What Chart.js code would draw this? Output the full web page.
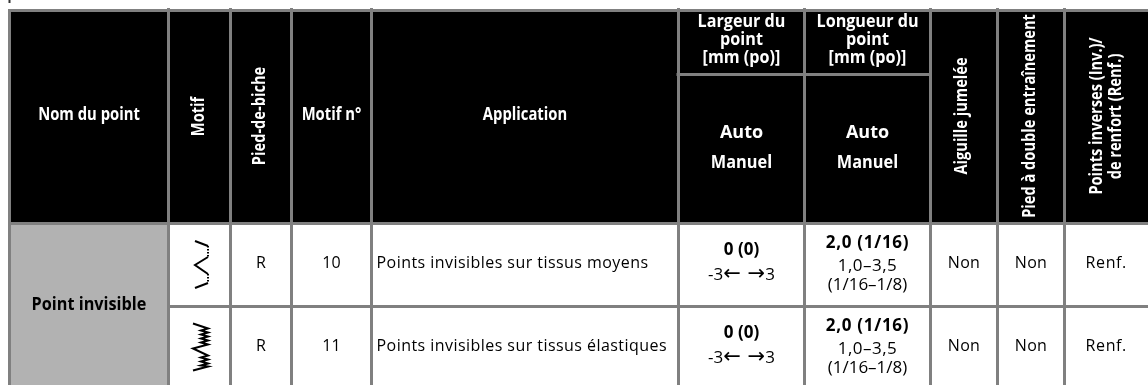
<!DOCTYPE html>
<html>
<head>
<meta charset="utf-8">
<style>
  html, body { margin: 0; padding: 0; background: #fff; }
  #wrap { width: 1148px; height: 385px; position: relative; overflow: hidden; }
</style>
<script src="https://cdn.jsdelivr.net/npm/chart.js@4/dist/chart.umd.min.js"></script>
</head>
<body>
<div id="wrap"><canvas id="chart" width="1148" height="385"></canvas></div>
<script>
/* ── Table contents ── */
const stitchGroup   = 'Point invisible';
const patternNos    = ['10', '11'];
const presserFeet   = ['R', 'R'];
const applications  = ['Points invisibles sur tissus moyens', 'Points invisibles sur tissus élastiques'];
const widthAuto     = ['0 (0)', '0 (0)'];
const widthRange    = ['-3← →3', '-3← →3'];
const lengthAuto    = ['2,0 (1/16)', '2,0 (1/16)'];
const lengthRange   = ['1,0–3,5', '1,0–3,5'];
const lengthRangeIn = ['(1/16–1/8)', '(1/16–1/8)'];
const twinNeedle    = ['Non', 'Non'];
const dualFeed      = ['Non', 'Non'];
const reverseStitch = ['Renf.', 'Renf.'];

/* ── Stitch pictograms, as pen strokes in glyph units ── */
const blindStrokes = [
  [[0, 0], [13, 5]],
  [[13, 16], [0, 24], [13, 33]],
  [[13, 42], [0, 47]]
];
const blindDots = [[13, 5], [13, 16], [13, 33], [13, 42]];
const stretchStrokes = [
  [[0, 0], [15, 5], [8, 7], [15, 9], [8, 11], [15, 13], [8, 15], [15, 17], [8, 19], [15, 21], [0, 25], [15, 32],
   [8, 34], [15, 36], [8, 38], [15, 40], [8, 42], [15, 43], [0, 47]]
];

/* ── Grid layout, in table units (1 unit = 1 px) ── */
const colEdges = [9.5, 168.5, 230.5, 291.5, 371.5, 678.5, 804.5, 930.5, 997.5, 1064.5, 1148];
const rowEdges = [10.5, 74.5, 223.5, 306.5, 385];

const GREY = '#808080';
const FONT = '"Open Sans"';
const ARROW_FONT = '21px "DejaVu Sans"';

function band(x0, x1, yTop, yBottom, color) {
  return {
    data: [{ x: x0, y: yTop }, { x: x1, y: yTop }],
    showLine: true, pointRadius: 0, borderWidth: 0,
    borderColor: color, backgroundColor: color,
    fill: { value: yBottom }, order: 5
  };
}

function rule(x0, y0, x1, y1, color = GREY, width = 3) {
  return {
    data: [{ x: x0, y: y0 }, { x: x1, y: y1 }],
    showLine: true, pointRadius: 0, borderWidth: width,
    borderColor: color, fill: false, order: 1
  };
}

const [rowTop, rowSub, rowHead, rowMid, rowEnd] = rowEdges;
const last = colEdges.length - 1;

const datasets = [
  band(colEdges[0], colEdges[last], rowTop, rowHead, '#000000'),
  band(colEdges[0], colEdges[1], rowHead, rowEnd, '#b2b2b2'),
  rule(colEdges[0] - 1.5, rowTop, colEdges[last], rowTop),
  rule(colEdges[0], rowHead, colEdges[last], rowHead),
  rule(colEdges[1], rowMid, colEdges[last], rowMid),
  rule(colEdges[5] - 2, rowSub, colEdges[7], rowSub),
  rule(colEdges[0], 0, colEdges[0], 3, '#333333', 2)
];
colEdges.slice(0, last).forEach((x, i) => {
  datasets.push(rule(x, i === 0 ? rowTop : rowTop - 2.5, x, rowEnd));
});

/* ── Text and pictograms, placed through the chart scales ── */
const tablePainter = {
  id: 'tablePainter',
  afterDatasetsDraw(chart) {
    const { ctx, scales: { x, y } } = chart;
    const colMid = i => x.getPixelForValue((colEdges[i] + colEdges[i + 1]) / 2);

    function text(str, px, py, font, opts = {}) {
      ctx.save();
      ctx.translate(px, py);
      if (opts.rot) ctx.rotate(opts.rot);
      if (opts.sx) ctx.scale(opts.sx, 1);
      ctx.font = `${font} ${FONT}`;
      ctx.letterSpacing = opts.ls || '0px';
      ctx.fillStyle = opts.color || '#000';
      ctx.textAlign = opts.align || 'center';
      ctx.textBaseline = 'alphabetic';
      ctx.fillText(str, 0, 0);
      ctx.restore();
    }

    // digits in the body font, arrows in a font with long shafts
    function rangeText(str, px, py) {
      const parts = str.split(/([← →]+)/);
      const fontOf = i => (i % 2 ? ARROW_FONT : `17px ${FONT}`);
      ctx.save();
      ctx.fillStyle = '#000';
      ctx.textAlign = 'left';
      ctx.textBaseline = 'alphabetic';
      const widths = parts.map((p, i) => { ctx.font = fontOf(i); return ctx.measureText(p).width; });
      let cx = px - widths.reduce((a, b) => a + b, 0) / 2;
      parts.forEach((p, i) => {
        ctx.font = fontOf(i);
        ctx.fillText(p, cx, py);
        cx += widths[i];
      });
      ctx.restore();
    }

    const up = -Math.PI / 2;
    const W = '#fff';
    const flat = { color: W, sx: 0.87 };
    const side = { color: W, rot: up, sx: 0.86 };
    // header
    text('Nom du point', colMid(0), y.getPixelForValue(120), 'bold 17px', flat);
    text('Motif', colMid(1) + 4, y.getPixelForValue(116.5), 'bold 17px', side);
    text('Pied-de-biche', colMid(2) + 3.5, y.getPixelForValue(116), 'bold 17px', side);
    text('Motif n°', colMid(3), y.getPixelForValue(120), 'bold 17px', flat);
    text('Application', colMid(4), y.getPixelForValue(120), 'bold 17px', flat);
    ['Largeur du', 'point', '[mm (po)]'].forEach((s, i) => text(s, colMid(5), y.getPixelForValue(27 + i * 18), 'bold 17px', { color: W, sx: 0.95 }));
    ['Longueur du', 'point', '[mm (po)]'].forEach((s, i) => text(s, colMid(6), y.getPixelForValue(27 + i * 18), 'bold 17px', { color: W, sx: 0.95 }));
    [5, 6].forEach(c => {
      text('Auto', colMid(c), y.getPixelForValue(138), 'bold 18px', { color: W });
      text('Manuel', colMid(c), y.getPixelForValue(168), 'bold 17px', { color: W, sx: 0.96 });
    });
    text('Aiguille jumelée', colMid(7) + 2.5, y.getPixelForValue(116), 'bold 17px', side);
    text('Pied à double entraînement', colMid(8) + 4, y.getPixelForValue(116), 'bold 17px', side);
    text('Points inverses (Inv.)/', colMid(9) - 4.5, y.getPixelForValue(116), 'bold 17px', side);
    text('de renfort (Renf.)', colMid(9) + 15, y.getPixelForValue(116.5), 'bold 17px', side);
    // body
    text(stitchGroup, colMid(0), y.getPixelForValue(310), 'bold 17px', { sx: 0.955 });
    patternNos.forEach((_, r) => {
      const base = rowEdges[2 + r];
      const py = v => y.getPixelForValue(base + v);
      text(presserFeet[r], colMid(2), py(44), '16px');
      text(patternNos[r], colMid(3), py(44), '16px');
      text(applications[r], x.getPixelForValue(colEdges[4] + 5), py(44.5), '16px', { align: 'left', ls: '0.45px' });
      text(widthAuto[r], colMid(5), py(31.5), 'bold 17px');
      rangeText(widthRange[r], colMid(5), py(56));
      text(lengthAuto[r], colMid(6), py(24), 'bold 17px', { ls: '0.7px' });
      text(lengthRange[r], colMid(6), py(47.5), '17px', { ls: '0.5px' });
      text(lengthRangeIn[r], colMid(6), py(66), '17px');
      text(twinNeedle[r], colMid(7), py(44), '16px', { ls: '0.3px' });
      text(dualFeed[r], colMid(8), py(44), '16px', { ls: '0.3px' });
      text(reverseStitch[r], colMid(9), py(44), '16px', { ls: '0.6px' });
    });
    // stitch pictograms
    [[blindStrokes, 195, 241], [stretchStrokes, 193, 323.5]].forEach(([strokes, gx, gy]) => {
      ctx.save();
      ctx.translate(x.getPixelForValue(gx), y.getPixelForValue(gy));
      ctx.strokeStyle = '#000';
      ctx.lineWidth = 2;
      strokes.forEach(shape => {
        ctx.beginPath();
        shape.forEach(([a, b], i) => (i ? ctx.lineTo(a, b) : ctx.moveTo(a, b)));
        ctx.stroke();
      });
      if (strokes === blindStrokes) {
        ctx.setLineDash([1.5, 1.5]);
        for (let i = 0; i < blindDots.length; i += 2) {
          ctx.beginPath();
          ctx.moveTo(...blindDots[i]);
          ctx.lineTo(...blindDots[i + 1]);
          ctx.stroke();
        }
      }
      ctx.restore();
    });
  }
};

new Chart(document.getElementById('chart'), {
  type: 'scatter',
  data: { datasets },
  options: {
    responsive: false,
    animation: false,
    layout: { padding: 0 },
    plugins: { legend: { display: false }, tooltip: { enabled: false }, title: { display: false } },
    scales: {
      x: { type: 'linear', min: 0, max: 1148, display: false },
      y: { type: 'linear', min: 0, max: 385, reverse: true, display: false }
    }
  },
  plugins: [tablePainter]
});
</script>
</body>
</html>
